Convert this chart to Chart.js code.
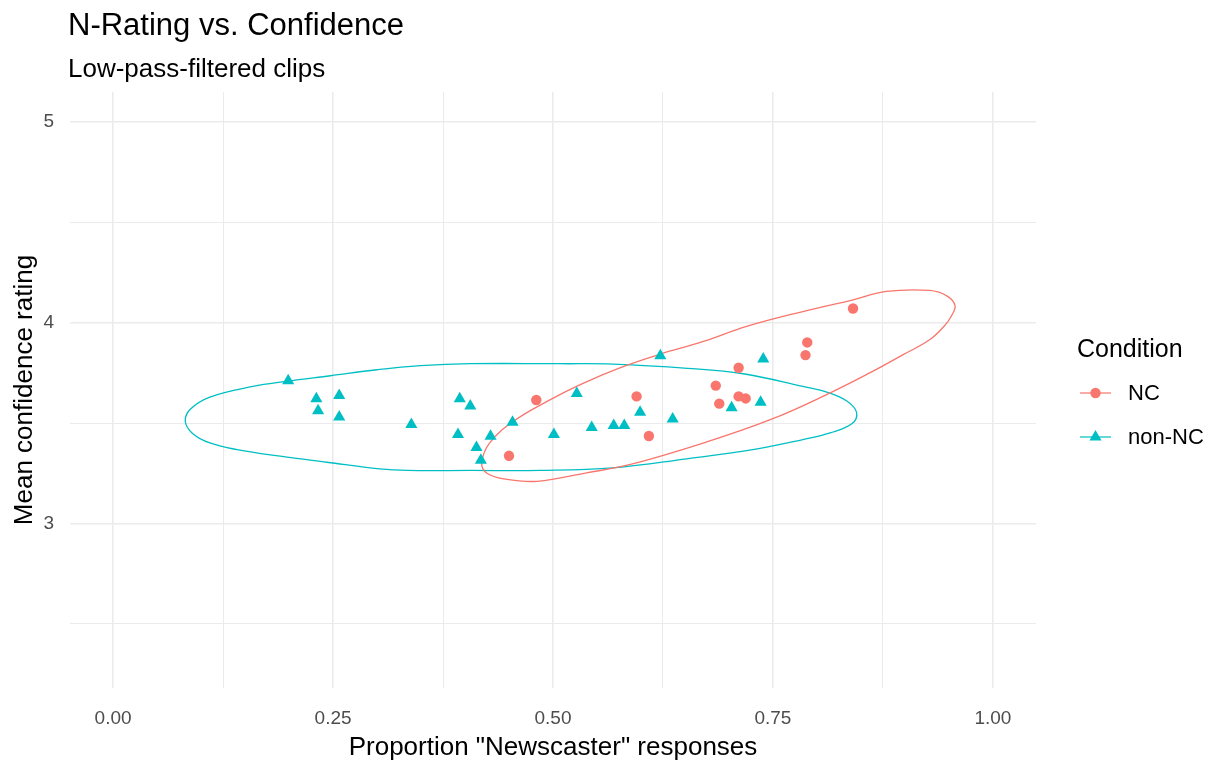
<!DOCTYPE html>
<html>
<head>
<meta charset="utf-8">
<title>N-Rating vs. Confidence</title>
<script src="https://cdn.jsdelivr.net/npm/chart.js@4/dist/chart.umd.min.js"></script>
<style>
  html, body { margin: 0; padding: 0; background: #ffffff; }
  #wrap { width: 1214px; height: 765px; }
</style>
</head>
<body>
<div id="wrap"><canvas id="chart" width="1214" height="765"></canvas></div>
<script>
'use strict';

// points
const ncX = [0.841, 0.789, 0.787, 0.711, 0.685, 0.711, 0.719, 0.689, 0.595, 0.609, 0.481, 0.450];
const ncY = [4.071, 3.902, 3.839, 3.776, 3.687, 3.633, 3.623, 3.597, 3.633, 3.436, 3.615, 3.337];

const nonNcX = [0.199, 0.231, 0.233, 0.257, 0.257, 0.339, 0.394, 0.406, 0.392, 0.429, 0.413, 0.418,
                0.454, 0.501, 0.527, 0.544, 0.569, 0.581, 0.599, 0.622, 0.636, 0.703, 0.736, 0.739];
const nonNcY = [3.711, 3.622, 3.562, 3.638, 3.531, 3.493, 3.622, 3.585, 3.443, 3.434, 3.378, 3.315,
                3.504, 3.443, 3.647, 3.478, 3.488, 3.488, 3.554, 3.836, 3.521, 3.577, 3.604, 3.819];

// ellipse outlines (start/end on a flat stretch so the seam stays smooth)
const ncEllX = [0.625, 0.671, 0.720, 0.784, 0.841, 0.879, 0.928, 0.948, 0.957, 0.953, 0.945, 0.928, 0.898,
                0.860, 0.811, 0.747, 0.671, 0.588, 0.538, 0.482, 0.444, 0.425, 0.419, 0.428, 0.455, 0.497,
                0.531, 0.576, 0.625];
const ncEllY = [3.849, 3.907, 3.982, 4.056, 4.114, 4.156, 4.161, 4.133, 4.085, 4.035, 3.985, 3.915, 3.841,
                3.750, 3.642, 3.517, 3.401, 3.294, 3.252, 3.210, 3.222, 3.250, 3.300, 3.401, 3.509, 3.617,
                3.692, 3.775, 3.849];

const nonNcEllX = [0.508, 0.568, 0.653, 0.716, 0.784, 0.813, 0.834, 0.845, 0.840, 0.815, 0.784, 0.727, 0.652,
                   0.568, 0.485, 0.406, 0.335, 0.303, 0.243, 0.190, 0.141, 0.110, 0.090, 0.082, 0.088, 0.110,
                   0.159, 0.197, 0.247, 0.300, 0.349, 0.406, 0.508];
const nonNcEllY = [3.796, 3.794, 3.773, 3.746, 3.683, 3.652, 3.610, 3.554, 3.498, 3.451, 3.418, 3.368, 3.322,
                   3.277, 3.264, 3.264, 3.264, 3.272, 3.305, 3.335, 3.368, 3.401, 3.450, 3.509, 3.570, 3.630,
                   3.683, 3.708, 3.736, 3.766, 3.786, 3.796, 3.796];

const xTicks = [0, 0.125, 0.25, 0.375, 0.5, 0.625, 0.75, 0.875, 1];
const xMajor = [0, 0.25, 0.5, 0.75, 1];
const yTicks = [2.5, 3, 3.5, 4, 4.5, 5];
const yMajor = [3, 4, 5];

const groups = ['NC', 'non-NC'];
const colors = ['#F8766D', '#00BFC4'];
const shapes = ['circle', 'triangle'];
const radii = [5.2, 7];

const FONT = '"Liberation Sans", Arial, sans-serif';

const toXY = (xs, ys) => xs.map((x, i) => ({ x: x, y: ys[i] }));

// title, subtitle and the ggplot-style legend
const decorations = {
    id: 'decorations',
    beforeDraw(chart) {
        const ctx = chart.ctx;
        ctx.save();
        ctx.fillStyle = '#ffffff';
        ctx.fillRect(0, 0, chart.width, chart.height);
        ctx.restore();
    },
    afterDraw(chart) {
        const ctx = chart.ctx;
        ctx.save();
        ctx.fillStyle = '#000000';
        ctx.textAlign = 'left';
        ctx.textBaseline = 'alphabetic';
        ctx.font = '31px ' + FONT;
        ctx.fillText('N-Rating vs. Confidence', 68, 35);
        ctx.font = '26px ' + FONT;
        ctx.fillText('Low-pass-filtered clips', 68, 77);

        ctx.font = '25px ' + FONT;
        ctx.fillText('Condition', 1077, 357);

        ctx.font = '22px ' + FONT;
        ctx.textBaseline = 'middle';
        groups.forEach((g, i) => {
            const y = 393 + i * 44;
            ctx.strokeStyle = colors[i];
            ctx.lineWidth = 1.2;
            ctx.beginPath();
            ctx.moveTo(1080, y);
            ctx.lineTo(1111, y);
            ctx.stroke();
            ctx.fillStyle = colors[i];
            Chart.helpers.drawPoint(ctx, {
                pointStyle: shapes[i], radius: radii[i], rotation: 0, borderWidth: 0
            }, 1095.5, y);
            ctx.fillStyle = '#000000';
            ctx.fillText(g, 1128, y + 1);
        });
        ctx.restore();
    }
};

const gridColor = '#EBEBEB';

new Chart(document.getElementById('chart'), {
    type: 'scatter',
    data: {
        datasets: [
            {
                label: 'NC',
                data: toXY(ncX, ncY),
                backgroundColor: colors[0],
                borderColor: colors[0],
                pointStyle: shapes[0],
                pointRadius: radii[0],
                borderWidth: 0,
                order: 1
            },
            {
                label: 'non-NC',
                data: toXY(nonNcX, nonNcY),
                backgroundColor: colors[1],
                borderColor: colors[1],
                pointStyle: shapes[1],
                pointRadius: radii[1],
                borderWidth: 0,
                order: 2
            },
            {
                label: 'NC ellipse',
                data: toXY(ncEllX, ncEllY),
                showLine: true,
                tension: 0.4,
                borderColor: colors[0],
                borderWidth: 1.3,
                pointRadius: 0,
                fill: false,
                order: 3
            },
            {
                label: 'non-NC ellipse',
                data: toXY(nonNcEllX, nonNcEllY),
                showLine: true,
                tension: 0.4,
                borderColor: colors[1],
                borderWidth: 1.3,
                pointRadius: 0,
                fill: false,
                order: 4
            }
        ]
    },
    options: {
        responsive: false,
        animation: false,
        layout: { padding: { left: 0, right: 178, top: 92, bottom: 0 } },
        plugins: {
            legend: { display: false },
            title: { display: false },
            tooltip: { enabled: false }
        },
        scales: {
            x: {
                type: 'linear',
                min: -0.049,
                max: 1.049,
                afterBuildTicks: (scale) => { scale.ticks = xTicks.map(v => ({ value: v })); },
                afterFit: (scale) => { scale.height = 77; },
                border: { display: false },
                grid: {
                    color: gridColor,
                    drawTicks: false,
                    lineWidth: (c) => xMajor.includes(c.tick.value) ? 1.6 : 1
                },
                ticks: {
                    autoSkip: false,
                    maxRotation: 0,
                    padding: 19,
                    color: '#4D4D4D',
                    font: { family: FONT, size: 19 },
                    callback: (v) => xMajor.includes(v) ? v.toFixed(2) : ''
                },
                title: {
                    display: true,
                    text: 'Proportion "Newscaster" responses',
                    color: '#000000',
                    font: { family: FONT, size: 26 },
                    padding: { top: 0, bottom: 2 }
                }
            },
            y: {
                type: 'linear',
                min: 2.18,
                max: 5.15,
                afterBuildTicks: (scale) => { scale.ticks = yTicks.map(v => ({ value: v })); },
                afterFit: (scale) => { scale.width = 70; },
                border: { display: false },
                grid: {
                    color: gridColor,
                    drawTicks: false,
                    lineWidth: (c) => yMajor.includes(c.tick.value) ? 1.6 : 1
                },
                ticks: {
                    autoSkip: false,
                    padding: 16,
                    color: '#4D4D4D',
                    font: { family: FONT, size: 19 },
                    callback: (v) => yMajor.includes(v) ? String(v) : ''
                },
                title: {
                    display: true,
                    text: 'Mean confidence rating',
                    color: '#000000',
                    font: { family: FONT, size: 26 },
                    padding: { top: 9, bottom: 0 }
                }
            }
        }
    },
    plugins: [decorations]
});
</script>
</body>
</html>
